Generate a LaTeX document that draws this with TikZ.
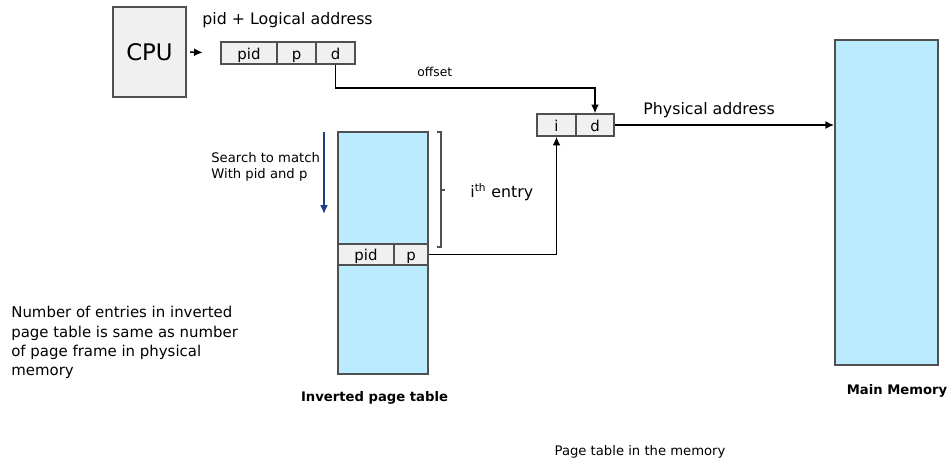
\documentclass[tikz,border=0pt]{standalone}
\usepackage{fontspec}
\setmainfont{DejaVu Sans}
\usetikzlibrary{arrows,arrows.meta,shapes}
\definecolor{cellgrey}{HTML}{F0F0F0}
\definecolor{memblue}{HTML}{BBEBFF}
\definecolor{edgegrey}{HTML}{505050}
\definecolor{searchblue}{HTML}{1F3C88}
\tikzstyle{cell}=[rectangle,draw=edgegrey,fill=cellgrey,line width=0.8pt,inner sep=0pt,minimum height=0.44cm,text height=1.5ex,text depth=0.25ex,font=\fontsize{8.5}{10}\selectfont]
\tikzstyle{mem}=[rectangle,draw=edgegrey,fill=memblue,line width=1pt,inner sep=0pt]
\tikzstyle{dgraph}=[-{Latex[length=5pt,width=4.5pt]}, line width=0.8pt]
\tikzstyle{lbl}=[inner sep=0pt,font=\fontsize{9}{11}\selectfont]

\begin{document}
\begin{tikzpicture}[x=0.02cm,y=-0.02cm]
\useasboundingbox (0,0) rectangle (949,461);
\node[cell,minimum width=1.46cm,minimum height=1.8cm,text height=,text depth=,font=\fontsize{13}{15}\selectfont] (CPU) at (149.5,52) {CPU};
\node[lbl,anchor=west] (la) at (202,20) {pid + Logical address};
\node[cell,minimum width=1.12cm] (pid) at (249,53) {pid};
\node[cell,minimum width=0.78cm] (p) at (296.5,53) {p};
\node[cell,minimum width=0.78cm] (d) at (335.5,53) {d};
\node[lbl,anchor=west,font=\fontsize{7}{9}\selectfont] (off) at (417,72) {offset};
\node[cell,minimum width=0.78cm] (i) at (556.5,125) {i};
\node[cell,minimum width=0.76cm] (d2) at (595,125) {d};
\node[lbl,anchor=west] (pa) at (643,110) {Physical address};
\node[mem,minimum width=1.8cm,minimum height=4.84cm] (ipt) at (383,253) {};
\node[cell,minimum width=1.12cm,minimum height=0.42cm] (pidE) at (366,254.5) {pid};
\node[cell,minimum width=0.68cm,minimum height=0.42cm] (pE) at (411,254.5) {p};
\node[mem,minimum width=2.06cm,minimum height=6.5cm] (MM) at (886.5,202.5) {};
\node[lbl,anchor=west,align=left,font=\fontsize{7.5}{9.5}\selectfont] (srch) at (211,167) {Search to match\\With pid and p};
\node[lbl,anchor=west] (ith) at (470,192) {i\textsuperscript{th} entry};
\node[lbl,anchor=north west,align=left,font=\fontsize{8.5}{11}\selectfont] (note) at (11,306) {Number of entries in inverted\\page table is same as number\\of page frame in physical\\memory};
\node[lbl,font=\bfseries\fontsize{7.5}{9}\selectfont] (iptl) at (374.5,398) {Inverted page table};
\node[lbl,font=\bfseries\fontsize{7.5}{9}\selectfont] (mml) at (897,391) {Main Memory};
\node[lbl,font=\fontsize{7.5}{9}\selectfont] (ptm) at (640,452) {Page table in the memory};
\coordinate (stop) at (324,132);
\coordinate (sbot) at (324,214);
% connectors
\draw[dgraph,shorten <=2pt,shorten >=10pt](CPU.east)--(pid.west);
\draw[dgraph](d.south)--(d.south |- 0,88)-|(d2.north);
\draw[dgraph](pE.east)-|(i.south);
\draw[dgraph](d2.east)--(MM.west |- d2.east);
\draw[dgraph,searchblue,line width=1.2pt](stop)--(sbot);
% bracket for the i-th entry
\draw[line width=0.7pt,edgegrey](437,132)--(441,132)--(441,247)--(437,247);\draw[line width=0.7pt,edgegrey](441,190)--(445,190);
\end{tikzpicture}
\end{document}
